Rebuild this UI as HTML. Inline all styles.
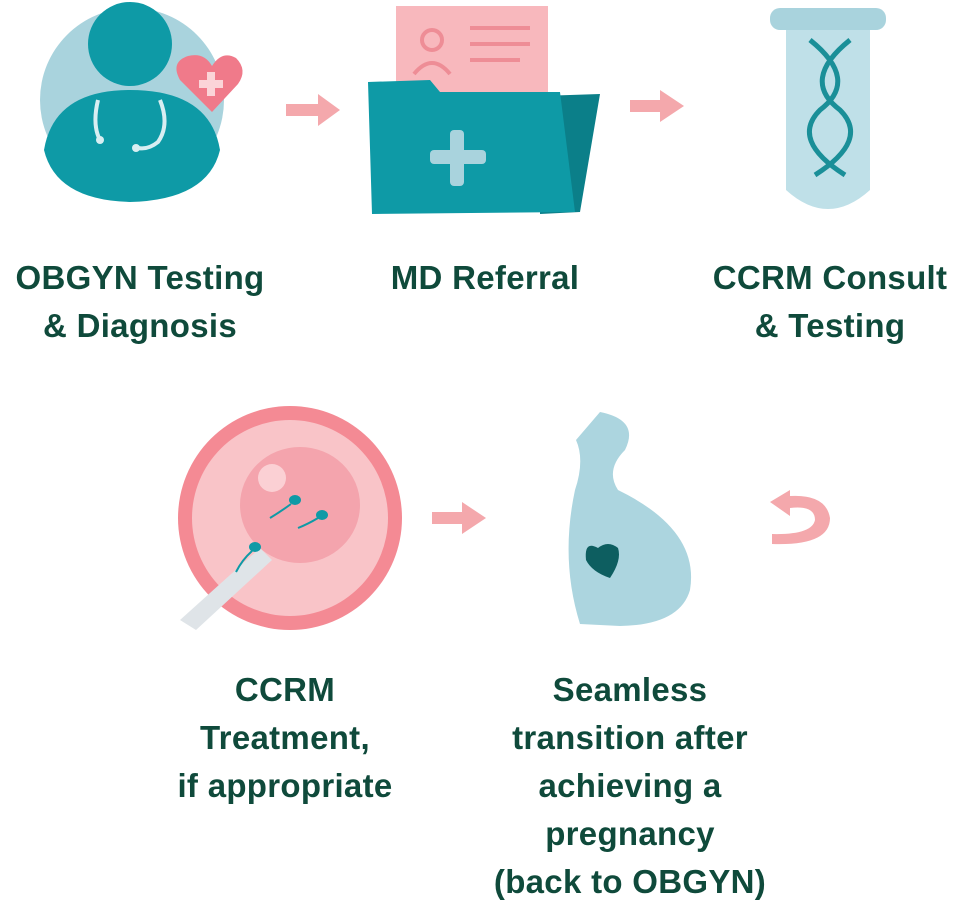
<!DOCTYPE html>
<html><head><meta charset="utf-8"><style>
html,body{margin:0;padding:0;background:#fff;}
body{width:978px;height:904px;position:relative;overflow:hidden;font-family:"Liberation Sans",sans-serif;}
.t{position:absolute;color:#0f4a3b;font-weight:bold;font-size:33px;letter-spacing:0.3px;line-height:48px;text-align:center;white-space:nowrap;transform:translateX(-50%);}
svg{position:absolute;left:0;top:0;}
</style></head><body>
<svg width="978" height="904" viewBox="0 0 978 904">
<circle cx="132" cy="100" r="92" fill="#a9d3dd"/>
<circle cx="130" cy="44" r="42" fill="#0e9aa6"/>
<path d="M44 150 Q54 90 130 90 Q210 90 220 150 Q208 200 130 202 Q56 200 44 150Z" fill="#0e9aa6"/>
<path d="M98 100 Q92 125 100 140 M160 100 Q170 125 158 142 Q148 150 138 148" stroke="#d8eef2" stroke-width="4" fill="none"/>
<circle cx="100" cy="140" r="4" fill="#d8eef2"/><circle cx="136" cy="148" r="4" fill="#d8eef2"/>
<path d="M212 112 L180 80 Q170 62 188 56 Q204 52 212 66 Q222 50 236 58 Q248 70 238 84Z" fill="#f07a8a"/>
<rect x="207" y="72" width="8" height="24" fill="#fbd4d8"/><rect x="199" y="80" width="24" height="8" fill="#fbd4d8"/>
<g fill="#f4a8ac">
<path d="M286 104 L318 104 L318 94 L340 110 L318 126 L318 116 L286 116Z"/>
<path d="M630 100 L660 100 L660 90 L684 106 L660 122 L660 112 L630 112Z"/>
<path d="M432 512 L462 512 L462 502 L486 518 L462 534 L462 524 L432 524Z"/>
<path d="M790 490 L770 502 L790 516 L790 508 Q815 505 815 520 Q812 535 772 534 L772 544 Q830 546 830 518 Q826 494 790 496Z"/>
</g>
<rect x="396" y="6" width="152" height="110" fill="#f8b8bd"/>
<circle cx="432" cy="40" r="10" fill="none" stroke="#ee8d96" stroke-width="4"/>
<path d="M414 74 Q432 52 450 74" fill="none" stroke="#ee8d96" stroke-width="4"/>
<g stroke="#ee8d96" stroke-width="4"><line x1="470" y1="28" x2="530" y2="28"/><line x1="470" y1="44" x2="530" y2="44"/><line x1="470" y1="60" x2="520" y2="60"/></g>
<path d="M540 96 L600 94 L580 212 L540 214Z" fill="#0b7f89"/>
<path d="M368 82 L430 80 L440 92 L560 92 L575 212 L372 214Z" fill="#0e9aa6"/>
<rect x="450" y="130" width="14" height="56" rx="4" fill="#a9d3dd"/><rect x="430" y="150" width="56" height="14" rx="4" fill="#a9d3dd"/>
<rect x="770" y="8" width="116" height="22" rx="10" fill="#a9d3dd"/>
<path d="M786 30 L870 30 L870 190 Q828 228 786 190Z" fill="#bfe0e8"/>
<path d="M810 40 Q860 80 820 110 Q790 140 845 175 M850 40 Q800 80 840 110 Q870 140 815 175" stroke="#1a8f98" stroke-width="5" fill="none"/>
<ellipse cx="290" cy="518" rx="112" ry="112" fill="#f48a94"/>
<ellipse cx="290" cy="518" rx="98" ry="98" fill="#f9c4c8"/>
<ellipse cx="300" cy="505" rx="60" ry="58" fill="#f4a4ad"/>
<circle cx="272" cy="478" r="14" fill="#fbd0d4"/>
<path d="M180 620 L260 548 L272 560 L196 630Z" fill="#dfe4e8"/>
<g fill="#0e9aa6"><ellipse cx="295" cy="500" rx="6" ry="5"/><ellipse cx="322" cy="515" rx="6" ry="5"/><ellipse cx="255" cy="547" rx="6" ry="5"/></g>
<g stroke="#0e9aa6" stroke-width="2" fill="none"><path d="M291 504 Q280 512 270 518"/><path d="M318 518 Q308 524 298 528"/><path d="M252 551 Q242 560 236 572"/></g>
<path d="M600 412 Q640 420 625 450 Q605 470 618 490 Q700 530 690 590 Q680 625 620 626 L580 624 Q560 560 575 490 Q585 460 576 440Z" fill="#acd5df"/>
<path d="M598 548 Q584 540 586 560 Q592 572 610 578 Q622 560 618 548 Q608 540 598 548Z" fill="#0d5e60"/>
</svg>
<div class="t" style="left:140px;top:254px">OBGYN Testing<br>&amp; Diagnosis</div>
<div class="t" style="left:485px;top:254px">MD Referral</div>
<div class="t" style="left:830px;top:254px">CCRM Consult<br>&amp; Testing</div>
<div class="t" style="left:285px;top:666px">CCRM<br>Treatment,<br>if appropriate</div>
<div class="t" style="left:630px;top:666px">Seamless<br>transition after<br>achieving a<br>pregnancy<br>(back to OBGYN)</div>
</body></html>
